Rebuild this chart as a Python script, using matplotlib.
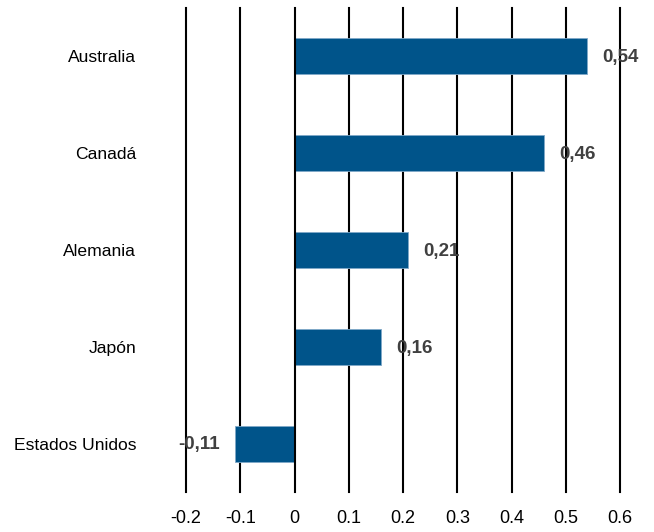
import matplotlib
matplotlib.use("Agg")
import matplotlib.pyplot as plt
from matplotlib import font_manager

categories = ["Australia", "Canadá", "Alemania", "Japón", "Estados Unidos"]
values = [0.54, 0.46, 0.21, 0.16, -0.11]
value_labels = ["0,54", "0,46", "0,21", "0,16", "-0,11"]
xticks = [-0.2, -0.1, 0, 0.1, 0.2, 0.3, 0.4, 0.5, 0.6]
xtick_labels = ["-0.2", "-0.1", "0", "0.1", "0.2", "0.3", "0.4", "0.5", "0.6"]

names = {f.name for f in font_manager.fontManager.ttflist}
fam = ["Liberation Sans Narrow", "DejaVu Sans"] if "Liberation Sans Narrow" in names else ["Liberation Sans", "DejaVu Sans"]
plt.rcParams["font.family"] = fam

fig = plt.figure(figsize=(6.54, 5.32), dpi=100)
ax = fig.add_axes([186/654, 1-492/532, (620-186)/654, (492-8)/532])

y = list(range(len(categories)))
ax.barh(y, values, height=0.37, color="#00548A", edgecolor="#7FA8C8", linewidth=0.6, zorder=2)
ax.set_ylim(len(categories)-0.5, -0.5)
ax.set_xlim(-0.2, 0.6)
for xv in xticks:
    ax.axvline(xv, color="black", linewidth=1.5, zorder=1 if xv != 0 else 3, clip_on=False)

for yi, v, lab in zip(y, values, value_labels):
    if v >= 0:
        ax.annotate(lab, (v, yi), xytext=(11, -1), textcoords="offset points",
                    ha="left", va="center", fontsize=13.5, fontweight="bold", color="#404040", zorder=4)
    else:
        ax.annotate(lab, (v, yi), xytext=(-11, -1), textcoords="offset points",
                    ha="right", va="center", fontsize=13.5, fontweight="bold", color="#404040", zorder=4)

ax.set_yticks(y)
ax.set_yticklabels(categories, fontsize=12.6)
ax.set_xticks(xticks)
ax.set_xticklabels(xtick_labels, fontsize=13)
ax.tick_params(axis="y", length=0, pad=36)
ax.tick_params(axis="x", length=0, pad=13)
for s in ax.spines.values():
    s.set_visible(False)

fig.savefig("out.png", dpi=100)
